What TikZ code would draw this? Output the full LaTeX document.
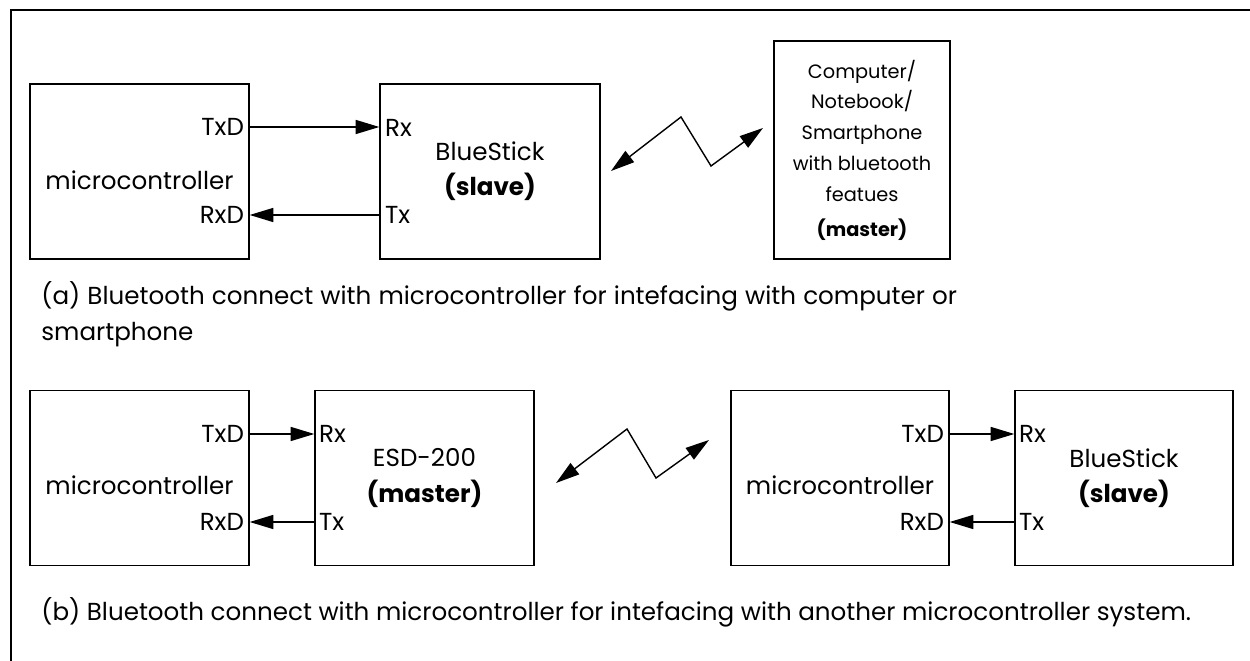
\documentclass[tikz,border=0pt]{standalone}
\usepackage{fontspec}
\setmainfont{Poppins}
\usetikzlibrary{arrows.meta,positioning}

\begin{document}
\begin{tikzpicture}[
    x=0.02cm, y=-0.02cm,
    blockstyle/.style={rectangle, draw, line width=0.8pt, inner sep=0pt,
                       minimum width=4.38cm, minimum height=3.5cm, align=center,
                       font=\fontsize{14}{20}\selectfont},
    pinlabel/.style={font=\fontsize{14}{16}\selectfont, inner sep=1pt},
    captionstyle/.style={font=\fontsize{14}{16}\selectfont, inner sep=0pt, anchor=west},
    >={Triangle[length=13.5pt,width=8pt]}
  ]
    \useasboundingbox (0,0) rectangle (1250,661);

    % Frame
    \draw[line width=1pt] (1250,10) -- (11,10) -- (11,661);

    % (a) microcontroller + BlueStick + computer
    \node[blockstyle] (mcA) at (139.5,171.5) {};
    \node[blockstyle, minimum width=4.4cm] (bsA) at (490,171.5)
      {BlueStick\\\textbf{(slave)}};
    \node[blockstyle, minimum width=3.52cm, minimum height=4.36cm,
          font=\fontsize{11}{17.6}\selectfont] (pcA) at (862,150)
      {Computer/\\Notebook/\\Smartphone\\with bluetooth\\featues\\[2pt]\textbf{(master)}};

    \node[pinlabel] (mcAname) at (139.5,180) {microcontroller};
    \node[pinlabel, anchor=east] (txdA) at (246,127) {TxD};
    \node[pinlabel, anchor=east] (rxdA) at (246,215) {RxD};
    \node[pinlabel, anchor=west] (rxA) at (383,128) {Rx};
    \node[pinlabel, anchor=west] (txA) at (383,215) {Tx};

    \draw[line width=0.8pt, ->] (txdA.east -| mcA.east) -- (txdA.east -| bsA.west);
    \draw[line width=0.8pt, ->] (txA.west -| bsA.west) -- (txA.west -| mcA.east);

    % Wireless link (a)
    \coordinate (zA1) at (611,171);
    \coordinate (zA2) at (681,117);
    \coordinate (zA3) at (711,166);
    \coordinate (zA4) at (763,128);
    \draw[line width=0.8pt, <->] (zA1) -- (zA2) -- (zA3) -- (zA4);

    \node[captionstyle] (capA) at (41,296)
      {\makebox[18.32cm][s]{(a) Bluetooth connect with microcontroller for intefacing with computer or}};
    \node[captionstyle] (capA2) at (41,335) {smartphone};

    % (b) microcontroller + ESD-200 <-> microcontroller + BlueStick
    \node[blockstyle] (mcB) at (139.5,478) {};
    \node[blockstyle] (esdB) at (424.5,478) {ESD-200\\\textbf{(master)}};
    \node[blockstyle, minimum width=4.36cm] (mcC) at (840,478) {};
    \node[blockstyle, minimum width=4.36cm] (bsC) at (1124,478)
      {BlueStick\\\textbf{(slave)}};

    \node[pinlabel] (mcBname) at (139.5,485) {microcontroller};
    \node[pinlabel, anchor=east] (txdB) at (246,434) {TxD};
    \node[pinlabel, anchor=east] (rxdB) at (246,522) {RxD};
    \node[pinlabel, anchor=west] (rxB) at (317,434) {Rx};
    \node[pinlabel, anchor=west] (txB) at (317,522) {Tx};

    \node[pinlabel] (mcCname) at (840,485) {microcontroller};
    \node[pinlabel, anchor=east] (txdC) at (946,434) {TxD};
    \node[pinlabel, anchor=east] (rxdC) at (946,522) {RxD};
    \node[pinlabel, anchor=west] (rxC) at (1017,434) {Rx};
    \node[pinlabel, anchor=west] (txC) at (1017,522) {Tx};

    \draw[line width=0.8pt, ->] (txdB.east -| mcB.east) -- (txdB.east -| esdB.west);
    \draw[line width=0.8pt, ->] (txB.west -| esdB.west) -- (txB.west -| mcB.east);
    \draw[line width=0.8pt, ->] (txdC.east -| mcC.east) -- (txdC.east -| bsC.west);
    \draw[line width=0.8pt, ->] (txC.west -| bsC.west) -- (txC.west -| mcC.east);

    % Wireless link (b)
    \coordinate (zB1) at (556,483);
    \coordinate (zB2) at (627,429);
    \coordinate (zB3) at (656,478);
    \coordinate (zB4) at (709,440);
    \draw[line width=0.8pt, <->] (zB1) -- (zB2) -- (zB3) -- (zB4);

    \node[captionstyle] (capB) at (41,612)
      {(b) Bluetooth connect with microcontroller for intefacing with another microcontroller system.};
  \end{tikzpicture}
\end{document}
